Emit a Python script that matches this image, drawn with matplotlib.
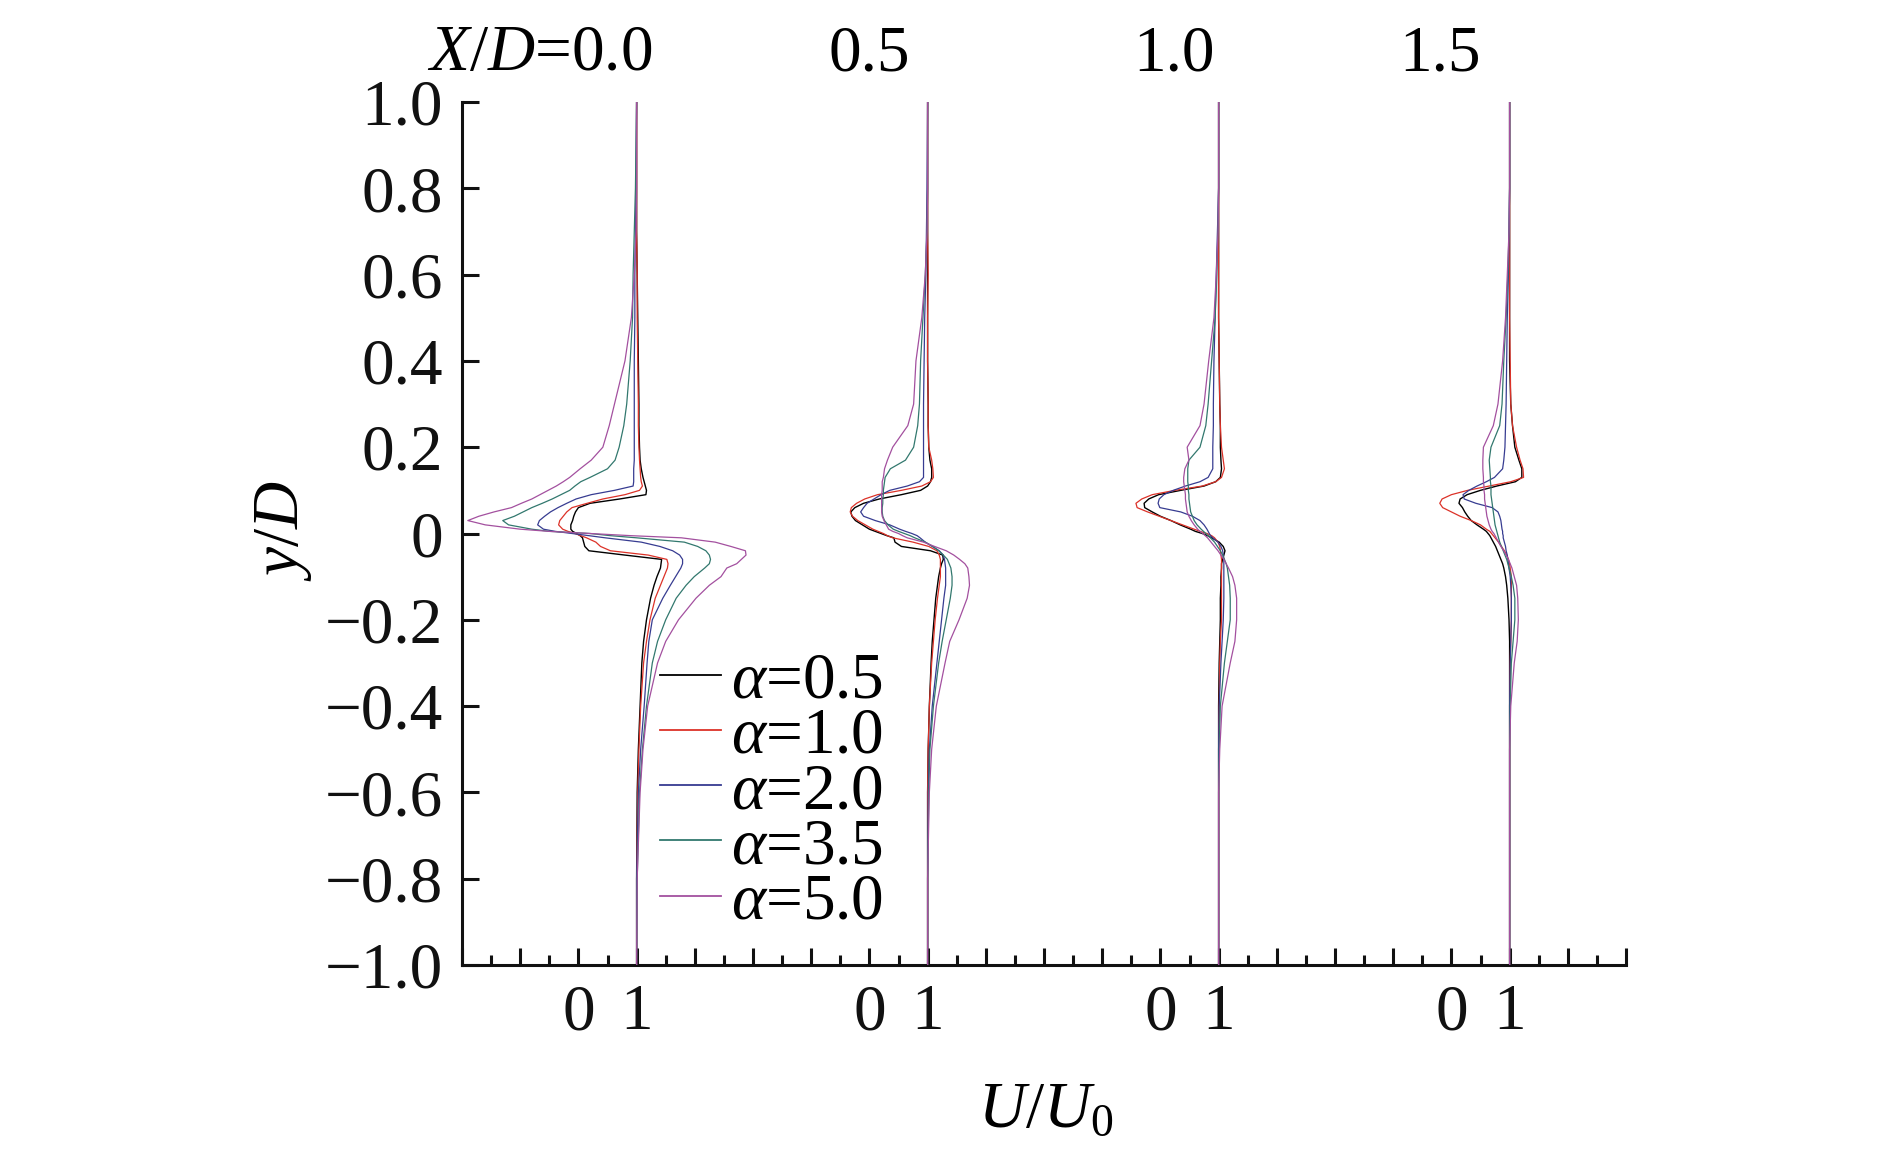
import numpy as np
import matplotlib
matplotlib.use("Agg")
import matplotlib.pyplot as plt
from matplotlib.lines import Line2D
from matplotlib.ticker import MultipleLocator

# ---------------- data ----------------
STATIONS = ["0.0", "0.5", "1.0", "1.5"]          # X/D
STATION_OFFSET = 5.0                               # horizontal shift between profiles (U/U0 units)
ALPHAS = ["0.5", "1.0", "2.0", "3.5", "5.0"]
COLORS = ["#000000", "#dc3228", "#373c91", "#32786e", "#a3509f"]

Y = [1.0, 0.8, 0.7, 0.6, 0.5, 0.4, 0.3, 0.25, 0.2, 0.17, 0.15, 0.13, 0.12, 0.11, 0.1,
     0.09, 0.08, 0.07, 0.06, 0.05, 0.04, 0.03, 0.02, 0.01, 0.005, 0.0, -0.005, -0.01,
     -0.02, -0.03, -0.04, -0.05, -0.06, -0.07, -0.08, -0.1, -0.12, -0.15, -0.2, -0.25,
     -0.3, -0.4, -0.5, -0.6, -0.8, -1.0]

# X/D = 0.0
U0_A05 = [1.0, 1.0, 1.0, 1.01, 1.02, 1.03, 1.04, 1.04, 1.05, 1.06, 1.08, 1.11, 1.13, 1.15, 1.17,
          1.16, 0.71, 0.2, 0.0, -0.05, -0.08, -0.1, -0.13, -0.13, -0.1, -0.03, 0.03, 0.07,
          0.09, 0.11, 0.18, 0.8, 1.43, 1.42, 1.41, 1.35, 1.3, 1.24, 1.17, 1.12,
          1.09, 1.06, 1.03, 1.01, 1.0, 1.0]
U0_A10 = [1.0, 1.0, 1.0, 1.01, 1.01, 1.02, 1.03, 1.03, 1.04, 1.05, 1.06, 1.07, 1.08, 1.1, 1.05,
          0.8, 0.42, 0.15, -0.11, -0.2, -0.26, -0.32, -0.34, -0.27, -0.18, -0.06, 0.04, 0.14,
          0.3, 0.38, 0.55, 1.2, 1.52, 1.54, 1.53, 1.47, 1.41, 1.32, 1.23, 1.17,
          1.12, 1.07, 1.04, 1.02, 1.0, 1.0]
U0_A20 = [1.0, 0.99, 0.98, 0.97, 0.97, 0.96, 0.96, 0.96, 0.96, 0.96, 0.95, 0.95, 0.95, 0.94, 0.62,
          0.22, -0.04, -0.2, -0.35, -0.48, -0.58, -0.67, -0.7, -0.6, -0.4, -0.11, 0.18, 0.46,
          1.08, 1.4, 1.62, 1.74, 1.79, 1.79, 1.76, 1.67, 1.58, 1.45, 1.27, 1.21,
          1.18, 1.13, 1.07, 1.03, 1.0, 1.0]
U0_A35 = [1.0, 0.98, 0.96, 0.94, 0.93, 0.89, 0.83, 0.78, 0.7, 0.63, 0.5, 0.2, 0.04, -0.06, -0.15,
          -0.3, -0.45, -0.62, -0.8, -0.95, -1.1, -1.3, -1.2, -0.8, -0.5, 0.2, 0.55, 1.0,
          1.82, 2.05, 2.19, 2.25, 2.27, 2.25, 2.17, 1.99, 1.85, 1.68, 1.5, 1.36,
          1.27, 1.17, 1.1, 1.05, 1.01, 1.0]
U0_A50 = [1.0, 1.0, 0.99, 0.96, 0.91, 0.8, 0.62, 0.53, 0.42, 0.22, 0.03, -0.15, -0.26, -0.38, -0.52,
          -0.66, -0.8, -0.98, -1.15, -1.45, -1.71, -1.9, -1.6, -1.0, -0.51, 0.2, 0.9, 1.77,
          2.35, 2.62, 2.87, 2.88, 2.8, 2.72, 2.55, 2.45, 2.25, 2.02, 1.72, 1.5,
          1.36, 1.19, 1.11, 1.06, 1.01, 1.0]

# X/D = 0.5
U1_A05 = [1.0, 1.0, 1.0, 1.0, 1.0, 1.0, 1.01, 1.01, 1.02, 1.04, 1.07, 1.07, 1.05, 1.0, 0.88,
          0.55, 0.17, -0.1, -0.25, -0.32, -0.3, -0.24, -0.12, 0.0, 0.1, 0.2, 0.3, 0.42,
          0.44, 0.55, 1.05, 1.26, 1.27, 1.24, 1.22, 1.19, 1.17, 1.14, 1.11, 1.08,
          1.06, 1.03, 1.01, 1.0, 1.0, 1.0]
U1_A10 = [1.0, 1.0, 1.0, 1.01, 1.0, 1.0, 1.01, 1.01, 1.02, 1.07, 1.09, 1.1, 1.05, 0.9, 0.55,
          0.14, -0.08, -0.22, -0.31, -0.33, -0.29, -0.2, -0.07, 0.06, 0.15, 0.24, 0.31, 0.4,
          0.75, 1.02, 1.16, 1.2, 1.22, 1.22, 1.22, 1.22, 1.2, 1.17, 1.13, 1.1,
          1.07, 1.03, 1.01, 1.0, 1.0, 1.0]
U1_A20 = [1.0, 0.99, 0.98, 0.97, 0.95, 0.94, 0.93, 0.93, 0.93, 0.93, 0.93, 0.93, 0.86, 0.65, 0.35,
          0.2, 0.08, -0.04, -0.1, -0.15, -0.1, 0.1, 0.35, 0.52, 0.62, 0.73, 0.82, 0.87,
          0.96, 1.08, 1.2, 1.27, 1.29, 1.3, 1.31, 1.31, 1.31, 1.28, 1.24, 1.2,
          1.16, 1.08, 1.03, 1.01, 1.0, 1.0]
U1_A35 = [1.0, 1.0, 0.99, 0.96, 0.92, 0.88, 0.86, 0.83, 0.76, 0.62, 0.36, 0.27, 0.26, 0.25, 0.24,
          0.24, 0.23, 0.23, 0.22, 0.22, 0.23, 0.26, 0.32, 0.41, 0.5, 0.6, 0.7, 0.78,
          0.96, 1.09, 1.19, 1.27, 1.34, 1.37, 1.4, 1.42, 1.42, 1.39, 1.32, 1.25,
          1.19, 1.1, 1.04, 1.02, 1.0, 1.0]
U1_A50 = [1.0, 1.0, 0.99, 0.96, 0.9, 0.8, 0.76, 0.66, 0.4, 0.31, 0.26, 0.24, 0.22, 0.22, 0.22,
          0.21, 0.21, 0.21, 0.21, 0.21, 0.22, 0.25, 0.29, 0.33, 0.4, 0.5, 0.57, 0.65,
          0.93, 1.12, 1.32, 1.45, 1.55, 1.64, 1.69, 1.71, 1.72, 1.68, 1.54, 1.38,
          1.3, 1.15, 1.07, 1.03, 1.0, 1.0]

# X/D = 1.0
U2_A05 = [1.0, 1.0, 1.0, 1.0, 1.0, 1.01, 1.02, 1.03, 1.03, 1.04, 1.05, 1.03, 0.95, 0.75, 0.35,
          -0.03, -0.2, -0.28, -0.27, -0.14, 0.0, 0.18, 0.34, 0.52, 0.6, 0.72, 0.81, 0.88,
          1.01, 1.08, 1.11, 1.09, 1.07, 1.05, 1.05, 1.04, 1.04, 1.03, 1.03, 1.02,
          1.01, 1.0, 1.0, 1.0, 1.0, 1.0]
U2_A10 = [1.0, 1.0, 1.0, 1.0, 1.0, 1.01, 1.02, 1.03, 1.05, 1.08, 1.1, 1.05, 0.95, 0.72, 0.25,
          -0.14, -0.32, -0.42, -0.4, -0.22, -0.02, 0.18, 0.38, 0.58, 0.68, 0.8, 0.88, 0.93,
          0.99, 1.02, 1.03, 1.04, 1.05, 1.05, 1.05, 1.05, 1.05, 1.05, 1.05, 1.03,
          1.02, 1.01, 1.0, 1.0, 1.0, 1.0]
U2_A20 = [1.0, 1.0, 0.98, 0.96, 0.94, 0.92, 0.91, 0.91, 0.9, 0.9, 0.9, 0.82, 0.68, 0.43, 0.22,
          0.06, -0.02, -0.04, -0.01, 0.35, 0.55, 0.68, 0.75, 0.8, 0.82, 0.84, 0.86, 0.9,
          0.99, 1.04, 1.07, 1.08, 1.09, 1.09, 1.09, 1.09, 1.09, 1.09, 1.08, 1.06,
          1.04, 1.01, 1.0, 1.0, 1.0, 1.0]
U2_A35 = [1.0, 1.0, 0.99, 0.97, 0.94, 0.88, 0.82, 0.78, 0.68, 0.49, 0.47, 0.47, 0.47, 0.48, 0.48,
          0.49, 0.49, 0.5, 0.51, 0.52, 0.55, 0.58, 0.63, 0.7, 0.74, 0.78, 0.82, 0.86,
          0.93, 0.98, 1.03, 1.07, 1.1, 1.13, 1.15, 1.17, 1.19, 1.2, 1.2, 1.15,
          1.1, 1.03, 1.01, 1.0, 1.0, 1.0]
U2_A50 = [1.0, 1.0, 0.99, 0.96, 0.92, 0.83, 0.75, 0.68, 0.46, 0.49, 0.42, 0.4, 0.4, 0.41, 0.42,
          0.43, 0.43, 0.44, 0.45, 0.46, 0.49, 0.53, 0.58, 0.64, 0.68, 0.73, 0.77, 0.81,
          0.87, 0.93, 0.99, 1.04, 1.09, 1.13, 1.17, 1.24, 1.28, 1.31, 1.31, 1.28,
          1.2, 1.06, 1.02, 1.0, 1.0, 1.0]

# X/D = 1.5
U3_A05 = [1.0, 1.0, 1.0, 1.0, 1.0, 1.0, 1.02, 1.05, 1.09, 1.16, 1.21, 1.21, 1.1, 0.78, 0.5,
          0.27, 0.15, 0.13, 0.19, 0.23, 0.28, 0.34, 0.44, 0.55, 0.6, 0.63, 0.66, 0.68,
          0.72, 0.76, 0.79, 0.82, 0.85, 0.88, 0.9, 0.93, 0.95, 0.97, 0.99, 1.0,
          1.0, 1.0, 1.0, 1.0, 1.0, 1.0]
U3_A10 = [1.0, 1.0, 1.0, 1.0, 1.0, 1.01, 1.02, 1.05, 1.12, 1.18, 1.23, 1.24, 1.02, 0.65, 0.28,
          0.0, -0.16, -0.2, -0.15, 0.0, 0.15, 0.34, 0.5, 0.6, 0.66, 0.69, 0.72, 0.75,
          0.81, 0.86, 0.91, 0.95, 0.98, 1.0, 1.01, 1.03, 1.03, 1.03, 1.03, 1.02,
          1.01, 1.0, 1.0, 1.0, 1.0, 1.0]
U3_A20 = [1.0, 1.0, 0.99, 0.98, 0.96, 0.95, 0.94, 0.93, 0.92, 0.9, 0.88, 0.74, 0.6, 0.44, 0.3,
          0.2, 0.22, 0.42, 0.7, 0.8, 0.83, 0.85, 0.86, 0.87, 0.88, 0.88, 0.89, 0.89,
          0.91, 0.93, 0.94, 0.96, 0.97, 0.98, 0.99, 1.01, 1.02, 1.03, 1.03, 1.02,
          1.01, 1.0, 1.0, 1.0, 1.0, 1.0]
U3_A35 = [1.0, 1.0, 0.99, 0.97, 0.94, 0.9, 0.87, 0.83, 0.68, 0.65, 0.66, 0.67, 0.67, 0.68, 0.68,
          0.68, 0.69, 0.7, 0.71, 0.72, 0.73, 0.74, 0.75, 0.77, 0.78, 0.79, 0.8, 0.81,
          0.83, 0.86, 0.89, 0.92, 0.95, 0.97, 0.99, 1.03, 1.06, 1.09, 1.09, 1.06,
          1.03, 1.01, 1.0, 1.0, 1.0, 1.0]
U3_A50 = [1.0, 1.0, 0.99, 0.96, 0.93, 0.88, 0.8, 0.72, 0.55, 0.54, 0.54, 0.55, 0.55, 0.56, 0.56,
          0.57, 0.57, 0.58, 0.59, 0.6, 0.61, 0.63, 0.65, 0.68, 0.7, 0.73, 0.75, 0.77,
          0.81, 0.85, 0.9, 0.94, 0.98, 1.01, 1.04, 1.08, 1.12, 1.14, 1.15, 1.13,
          1.08, 1.02, 1.0, 1.0, 1.0, 1.0]

PROFILES = [
    [U0_A05, U0_A10, U0_A20, U0_A35, U0_A50],
    [U1_A05, U1_A10, U1_A20, U1_A35, U1_A50],
    [U2_A05, U2_A10, U2_A20, U2_A35, U2_A50],
    [U3_A05, U3_A10, U3_A20, U3_A35, U3_A50],
]

YTICKS = [-1.0, -0.8, -0.6, -0.4, -0.2, 0.0, 0.2, 0.4, 0.6, 0.8, 1.0]
YTICK_LABELS = ["\u22121.0", "\u22120.8", "\u22120.6", "\u22120.4", "\u22120.2", "0",
                "0.2", "0.4", "0.6", "0.8", "1.0"]
TITLE_X = [1.26, 5.0, 10.24, 14.8]     # data x of the station captions
TITLE_TEXT = [r"$X/D$=0.0", "0.5", "1.0", "1.5"]
TITLE_HA = ["right", "center", "center", "center"]

# ---------------- style ----------------
plt.rcParams["font.family"] = ["Liberation Serif", "DejaVu Serif"]
plt.rcParams["mathtext.fontset"] = "custom"
plt.rcParams["mathtext.rm"] = "Liberation Serif"
plt.rcParams["mathtext.it"] = "Liberation Serif:italic"
plt.rcParams["axes.unicode_minus"] = True
FS = 47

fig = plt.figure(figsize=(18.9, 11.66), dpi=100)
ax = fig.add_axes([462 / 1890, 1 - 965 / 1166, (1626 - 462) / 1890, (965 - 102) / 1166])

yv = np.array(Y)
for k, station in enumerate(PROFILES):
    off = STATION_OFFSET * k
    for j, u in enumerate(station):
        ax.plot(np.array(u) + off, yv, color=COLORS[j], lw=0.9 if j else 1.0, zorder=3)

ax.set_xlim(-2, 18)
ax.set_ylim(-1, 1)

for s in ["top", "right"]:
    ax.spines[s].set_visible(False)
for s in ["left", "bottom"]:
    ax.spines[s].set_linewidth(2.2)
    ax.spines[s].set_color("#111111")

# y ticks
ax.set_yticks(YTICKS)
ax.set_yticklabels(YTICK_LABELS)
ax.tick_params(axis="y", direction="in", length=12.5, width=2.2, pad=13.5,
               labelsize=FS, colors="#111111")

# x ticks: integer majors, half-integer minors; labels 0 / 1 under each profile
xt = list(range(-2, 19))
xl = []
for v in xt:
    if v % 5 in (0, 1) and 0 <= v <= 16:
        xl.append(str(v % 5))
    else:
        xl.append("")
ax.set_xticks(xt)
ax.set_xticklabels(xl)
ax.xaxis.set_minor_locator(MultipleLocator(0.5))
ax.tick_params(axis="x", which="major", direction="in", length=12.5, width=2.2, pad=13.5,
               labelsize=FS, colors="#111111")
ax.tick_params(axis="x", which="minor", direction="in", length=7.2, width=2.2,
               colors="#111111")

# station captions
for x, t, ha in zip(TITLE_X, TITLE_TEXT, TITLE_HA):
    ax.text(x, 1.074, t, ha=ha, va="baseline", fontsize=FS, clip_on=False)

# axis labels
fig.text(284 / 1890, 1 - 530.4 / 1166, r"$y/D$", rotation=90, ha="center", va="center",
         fontsize=FS)
fig.text(1046 / 1890, 1 - 1127 / 1166, r"$U/U_0$", ha="center", va="baseline", fontsize=FS)

# legend
handles = [Line2D([], [], color=c, lw=1.3) for c in COLORS]
labels = [r"$\alpha$=" + a for a in ALPHAS]
ax.legend(handles, labels, loc="upper left", bbox_to_anchor=(1.41, -0.275),
          bbox_transform=ax.transData, frameon=False, fontsize=FS, borderpad=0,
          borderaxespad=0, handlelength=0.93, handletextpad=0.15, labelspacing=-0.07)

fig.savefig("out.png", dpi=100)
